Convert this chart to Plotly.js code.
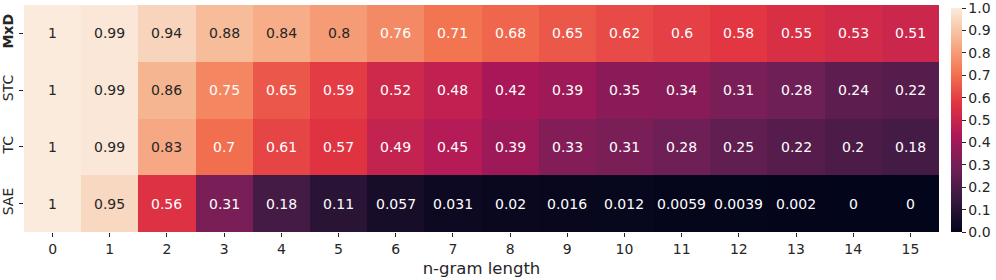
<!DOCTYPE html>
<html>
<head>
<meta charset="utf-8">
<script src="https://cdn.plot.ly/plotly-3.0.1.min.js"></script>
<style>html,body{margin:0;padding:0;background:#fff;}#chart{width:996px;height:280px;}</style>
</head>
<body>
<div id="chart"></div>
<script>
const ngram = [0,1,2,3,4,5,6,7,8,9,10,11,12,13,14,15];
const methods = ["MxD","STC","TC","SAE"];
const methodLabels = ["<b>MxD</b>","STC","TC","SAE"];
const mxd = [1,0.99,0.94,0.88,0.84,0.8,0.76,0.71,0.68,0.65,0.62,0.6,0.58,0.55,0.53,0.51];
const stc = [1,0.99,0.86,0.75,0.65,0.59,0.52,0.48,0.42,0.39,0.35,0.34,0.31,0.28,0.24,0.22];
const tc  = [1,0.99,0.83,0.7,0.61,0.57,0.49,0.45,0.39,0.33,0.31,0.28,0.25,0.22,0.2,0.18];
const sae = [1,0.95,0.56,0.31,0.18,0.11,0.057,0.031,0.02,0.016,0.012,0.0059,0.0039,0.002,0,0];
const cbTicks = [0,0.1,0.2,0.3,0.4,0.5,0.6,0.7,0.8,0.9,1.0];

const z = [mxd, stc, tc, sae];
const rows = [0,1,2,3];

const rocket = [
  [0.0, '#03051a'],
  [1/7, '#35193e'],
  [2/7, '#701f57'],
  [3/7, '#ad1759'],
  [4/7, '#e13342'],
  [5/7, '#f37651'],
  [6/7, '#f6b48f'],
  [1.0, '#faebdd']
];

const annotations = [];
z.forEach((row, r) => {
  row.forEach((v, c) => {
    annotations.push({
      x: ngram[c], y: rows[r], xref: 'x', yref: 'y',
      text: String(v), showarrow: false,
      font: {family: 'DejaVu Sans', size: 14, color: v > 0.78 ? '#262626' : '#ffffff'}
    });
  });
});

const trace = {
  type: 'heatmap',
  x: ngram, y: rows, z: z,
  zmin: 0, zmax: 1,
  colorscale: rocket,
  hoverinfo: 'skip',
  colorbar: {
    thickness: 11, len: 0.985, lenmode: 'fraction',
    x: 1.0125, xanchor: 'left', xref: 'paper',
    y: 0, yanchor: 'bottom', ypad: 0, xpad: 0,
    outlinewidth: 0,
    tickvals: cbTicks, ticktext: cbTicks.map(t => t.toFixed(1)),
    ticklabeloverflow: 'allow',
    ticks: 'outside', ticklen: 4, tickwidth: 1, tickcolor: '#262626',
    tickfont: {family: 'DejaVu Sans', size: 14, color: '#262626'}
  }
};

const layout = {
  width: 996, height: 280,
  margin: {l: 24, r: 56, t: 5, b: 48},
  paper_bgcolor: '#ffffff', plot_bgcolor: '#ffffff',
  font: {family: 'DejaVu Sans', size: 14, color: '#262626'},
  xaxis: {
    tickvals: ngram, ticktext: ngram.map(String),
    ticks: 'outside', ticklen: 4, tickwidth: 1, tickcolor: '#262626',
    showgrid: false, zeroline: false, showline: false,
    tickfont: {family: 'DejaVu Sans', size: 14, color: '#262626'},
    title: {text: 'n-gram length', font: {family: 'DejaVu Sans', size: 16.5, color: '#262626'}, standoff: 6}
  },
  yaxis: {
    tickvals: rows, ticktext: methodLabels,
    autorange: 'reversed',
    tickangle: -90,
    ticks: 'outside', ticklen: 4, tickwidth: 1, tickcolor: '#262626',
    showgrid: false, zeroline: false, showline: false,
    tickfont: {family: 'DejaVu Sans', size: 14, color: '#262626'}
  },
  annotations: annotations
};

Plotly.newPlot('chart', [trace], layout, {displayModeBar: false, staticPlot: true});
</script>
</body>
</html>
